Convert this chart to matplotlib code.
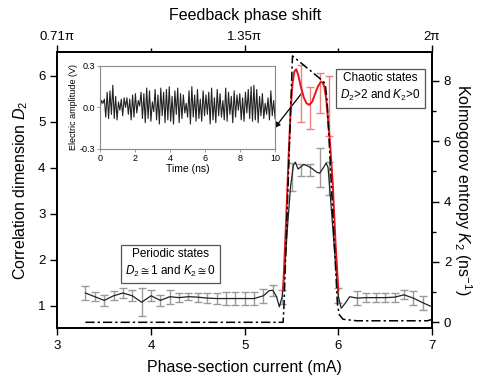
import matplotlib
matplotlib.use("Agg")
import matplotlib.pyplot as plt
import numpy as np

plt.rcParams["font.family"] = ["Liberation Sans", "DejaVu Sans"]
plt.rcParams["mathtext.fontset"] = "custom"
plt.rcParams["mathtext.rm"] = "Liberation Sans"
plt.rcParams["mathtext.it"] = "Liberation Sans:italic"
plt.rcParams["mathtext.fallback"] = "stixsans"

# correlation dimension D2 (left axis), solid black line
d2_x = [3.3, 3.4, 3.5, 3.6, 3.7, 3.8, 3.9, 4.0, 4.1, 4.2, 4.3, 4.4, 4.5, 4.6, 4.7,
        4.8, 4.9, 5.0, 5.1, 5.2, 5.26, 5.3, 5.34, 5.37, 5.4, 5.43, 5.46, 5.49,
        5.52, 5.54, 5.57, 5.6, 5.63, 5.67, 5.72, 5.77, 5.8, 5.84, 5.87, 5.89,
        5.91, 5.94, 5.97, 6.0, 6.03, 6.07, 6.12, 6.2, 6.3, 6.4, 6.5, 6.6, 6.7,
        6.8, 6.9, 7.0]
d2_y = [1.28, 1.2, 1.12, 1.22, 1.28, 1.22, 1.08, 1.22, 1.12, 1.2, 1.18, 1.2, 1.19,
        1.17, 1.16, 1.16, 1.16, 1.16, 1.16, 1.22, 1.33, 1.34, 1.2, 0.98, 1.2, 1.9,
        2.8, 3.6, 4.05, 4.12, 3.97, 4.02, 4.07, 4.04, 3.98, 3.9, 3.88, 4.0, 4.1,
        4.0, 3.5, 2.7, 1.9, 1.2, 0.95, 1.05, 1.2, 1.17, 1.18, 1.18, 1.18, 1.19,
        1.24, 1.17, 1.07, 0.98]

# error bars on D2
d2_err_x = [3.3, 3.4, 3.5, 3.6, 3.7, 3.8, 3.9, 4.0, 4.1, 4.2, 4.3, 4.4, 4.5, 4.6,
            4.7, 4.8, 4.9, 5.0, 5.1, 5.2, 5.3, 5.4, 5.5, 5.6, 5.7, 5.8, 5.9, 6.0,
            6.2, 6.3, 6.4, 6.5, 6.6, 6.7, 6.8, 6.9]
d2_err_y = [1.28, 1.2, 1.12, 1.22, 1.28, 1.22, 1.08, 1.22, 1.12, 1.2, 1.18, 1.2,
            1.19, 1.17, 1.16, 1.16, 1.16, 1.16, 1.16, 1.22, 1.34, 1.2, 3.8, 3.95,
            3.95, 4.0, 3.77, 1.22, 1.17, 1.18, 1.18, 1.18, 1.19, 1.24, 1.17, 1.07]
d2_err = [0.15, 0.1, 0.12, 0.1, 0.1, 0.12, 0.3, 0.12, 0.12, 0.15, 0.1, 0.08, 0.1,
          0.1, 0.12, 0.15, 0.15, 0.15, 0.15, 0.15, 0.12, 0.15, 0.3, 0.13, 0.13,
          0.42, 0.36, 0.16, 0.15, 0.1, 0.1, 0.1, 0.1, 0.1, 0.15, 0.15]

# Kolmogorov entropy K2 (right axis), red line
k2_x = [5.41, 5.44, 5.47, 5.49, 5.51, 5.53, 5.55, 5.57, 5.6, 5.63, 5.66, 5.69,
        5.72, 5.75, 5.78, 5.81, 5.83, 5.85, 5.87, 5.89, 5.91, 5.94, 5.97, 6.0]
k2_y = [1.07, 3.2, 5.6, 7.0, 7.9, 8.3, 8.38, 8.2, 7.8, 7.45, 7.25, 7.2, 7.3, 7.55,
        7.8, 7.95, 7.95, 7.8, 7.4, 6.7, 6.0, 4.6, 2.6, 1.07]
k2_err_x = [5.6, 5.7, 5.8, 5.9]
k2_err_y = [7.58, 7.09, 7.58, 7.17]
k2_err = [0.94, 0.7, 0.66, 1.0]

# dash-dot curve (right axis)
dd_x = [3.3, 5.41, 5.42, 5.51, 5.80, 5.86, 5.88, 5.99, 6.01, 6.05, 6.2, 6.95, 7.0]
dd_y = [0.0, 0.0, 0.6, 8.82, 8.08, 7.9, 7.3, 0.6, 0.25, 0.1, 0.05, 0.05, 0.1]

# inset: chaotic waveform (V)
wave = [0.0, 0.05, 0.03, 0.06, -0.07, 0.11, -0.08, 0.12, -0.05, 0.16, -0.08, 0.08,
        -0.09, 0.04, -0.02, 0.06, -0.06, 0.07, 0.0, 0.07, -0.05, 0.06, -0.09, 0.09,
        -0.07, 0.10, -0.04, 0.05, 0.01, 0.11, -0.08, 0.10, -0.11, 0.14, -0.08, 0.12,
        -0.10, 0.04, -0.03, 0.13, -0.09, 0.09, -0.12, 0.14, -0.06, 0.11, -0.11, 0.13,
        -0.09, 0.15, -0.10, 0.08, -0.12, 0.12, -0.05, 0.14, -0.11, 0.10, -0.08, 0.09,
        -0.04, 0.03, -0.07, 0.12, -0.12, 0.15, -0.07, 0.09, -0.10, 0.13, -0.08, 0.06,
        -0.10, 0.12, -0.06, 0.09, -0.05, 0.11, -0.12, 0.14, -0.09, 0.07, -0.11, 0.13,
        -0.06, 0.10, -0.07, 0.05, -0.09, 0.14, -0.10, 0.11, -0.05, 0.08, -0.11, 0.12,
        -0.07, 0.09, -0.02, 0.10, -0.09, 0.07, -0.10, 0.11, -0.04, 0.13, -0.08, 0.15,
        -0.10, 0.16, -0.09, 0.13, -0.11, 0.08, -0.06, 0.10, -0.08, 0.03, -0.05, 0.07,
        -0.09, 0.12, -0.06, 0.05, -0.08]
wave_t = np.linspace(0, 10, len(wave))

top_ticks = [3, 5, 7]
top_labels = ["0.71\u03c0", "1.35\u03c0", "2\u03c0"]

fig = plt.figure(figsize=(4.86, 3.81), dpi=100)
ax = fig.add_axes([0.118, 0.139, 0.771, 0.7245])
axr = ax.twinx()
axt = ax.twiny()

ax.errorbar(d2_err_x, d2_err_y, yerr=d2_err, fmt="none", ecolor="#9a9a9a",
            elinewidth=1.0, capsize=3, capthick=1.0, zorder=2)
ax.plot(d2_x, d2_y, color="#222222", lw=0.9, zorder=3)
axr.errorbar(k2_err_x, k2_err_y, yerr=k2_err, fmt="none", ecolor="#f08080",
             elinewidth=1.0, capsize=3, capthick=1.0, zorder=2)
axr.plot(k2_x, k2_y, color="#e8141c", lw=1.4, zorder=3)
axr.plot(dd_x, dd_y, color="black", lw=1.1, ls=(0, (6, 2, 1.5, 2)), zorder=4)

ax.set_xlim(3, 7)
ax.set_ylim(0.52, 6.51)
axr.set_ylim(-0.19, 8.95)
axt.set_xlim(3, 7)

ax.set_xticks([3, 4, 5, 6, 7])
ax.set_yticks([1, 2, 3, 4, 5, 6])
axr.set_yticks([0, 2, 4, 6, 8])
axr.set_yticks([1, 3, 5, 7], minor=True)
axt.set_xticks(top_ticks)
axt.set_xticklabels(top_labels)
axt.set_xticks([4, 6], minor=True)

for a in (ax, axr, axt):
    a.tick_params(which="major", direction="out", length=5, width=1, labelsize=9.5)
    a.tick_params(which="minor", direction="out", length=3, width=1)
    for s in a.spines.values():
        s.set_linewidth(1.1)
axt.tick_params(which="major", pad=1.5)

ax.set_xlabel("Phase-section current (mA)", fontsize=11.5, labelpad=6)
ax.set_ylabel("Correlation dimension $D_2$", fontsize=11.5, labelpad=6)
axr.set_ylabel("Kolmogorov entropy $K_2$ (ns$^{-1}$)", fontsize=11.5,
               rotation=270, labelpad=16)
axt.set_xlabel("Feedback phase shift", fontsize=11.5, labelpad=8)

box = dict(boxstyle="square,pad=0.35", fc="white", ec="#555555", lw=0.9)
ax.text(4.21, 1.92, "Periodic states\n$D_2\\cong$1 and $K_2\\cong$0", ha="center",
        va="center", fontsize=8.5, bbox=box, linespacing=1.35, zorder=6)
ax.text(6.45, 5.73, "Chaotic states\n$D_2$>2 and $K_2$>0", ha="center",
        va="center", fontsize=8.5, bbox=box, linespacing=1.35, zorder=6)

ax.annotate("", xy=(5.32, 4.86), xytext=(5.61, 5.62),
            arrowprops=dict(arrowstyle="-|>", color="black", lw=0.9,
                            mutation_scale=8, shrinkA=0, shrinkB=0), zorder=7)

ins = fig.add_axes([0.206, 0.609, 0.36, 0.218])
ins.plot(wave_t, wave, color="#222222", lw=0.8)
ins.set_xlim(0, 10)
ins.set_ylim(-0.3, 0.3)
ins.set_xticks([0, 2, 4, 6, 8, 10])
ins.set_yticks([-0.3, 0.0, 0.3])
ins.set_yticklabels(["-0.3", "0.0", "0.3"])
ins.tick_params(direction="out", length=2, width=0.6, labelsize=6.5, pad=1.5,
                color="#888888")
for s in ins.spines.values():
    s.set_color("#888888")
    s.set_linewidth(0.8)
ins.set_xlabel("Time (ns)", fontsize=7.5, labelpad=0.5)
ins.set_ylabel("Electric amplitude (V)", fontsize=6.5, labelpad=1)

fig.savefig("out.png", dpi=100)
